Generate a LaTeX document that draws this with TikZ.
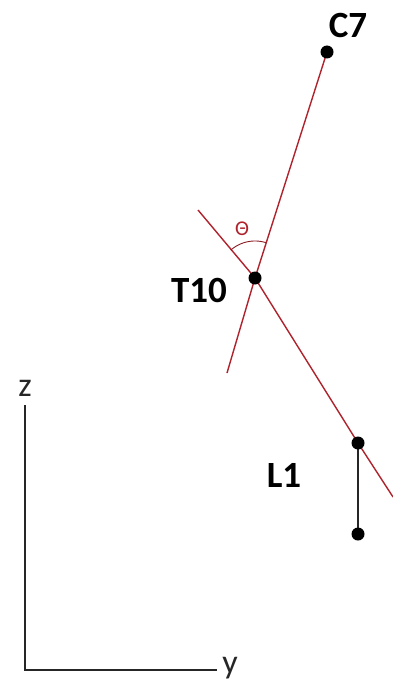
\documentclass[tikz,border=0pt]{standalone}
\usepackage{fontspec}
\setmainfont{Carlito}
\usetikzlibrary{backgrounds}
\definecolor{spine}{RGB}{175,35,45}
\tikzset{
  vert/.style={circle,fill=black,inner sep=0pt,minimum size=13pt},
  lbl/.style={font=\bfseries\fontsize{37}{40}\selectfont,inner sep=0pt},
  axlbl/.style={font=\fontsize{34}{36}\selectfont,inner sep=0pt,text=black!85},
  spineline/.style={draw=spine,line width=1.4pt},
  axisline/.style={draw=black!85,line width=2pt},
  seg/.style={draw=black!85,line width=1.6pt},
  anglearc/.style={draw=spine!80!black,line width=0.9pt},
}
\begin{document}
\begin{tikzpicture}[x=1pt,y=-1pt]
\begin{scope}[on background layer]
  \fill[white] (0,0) rectangle (393,682);
\end{scope}
\useasboundingbox (0,0) rectangle (393,682);
% vertebrae
\coordinate (c7end) at (227,373);
\coordinate (ltop) at (198,210);
\coordinate (lend) at (393,497);
\coordinate (pC7) at (327,52);
\coordinate (pT10) at (255,278);
\coordinate (pL1) at (358,443);
\coordinate (pL1b) at (358,534);
\draw[spineline] (pC7) -- (pT10) -- (c7end);
\draw[spineline] (ltop) -- (pT10) -- (pL1) -- (lend);
\draw[seg] (pL1) -- (pL1b);
\draw[anglearc] plot[domain=72:131,samples=40] ({255+37*cos(\x)},{278-37*sin(\x)});
\node[vert] (C7) at (pC7) {};
\node[vert] (T10) at (pT10) {};
\node[vert] (L1) at (pL1) {};
\node[vert] (L1b) at (pL1b) {};
% labels
\node[lbl] (c7l) at (348,25) {C7};
\node[lbl] (t10l) at (199,290) {T10};
\node[lbl] (l1l) at (284,475) {L1};
\node[font=\fontsize{21}{23}\selectfont,text=spine,inner sep=0pt] (theta) at (242,229) {Θ};
% axes
\coordinate (ztop) at (25,405);
\coordinate (origin) at (25,670);
\coordinate (yend) at (217,670);
\draw[axisline] (ztop) -- (origin) -- (yend);
\node[axlbl] (zl) at (25,388) {z};
\node[axlbl] (yl) at (230,668) {y};
\end{tikzpicture}
\end{document}
